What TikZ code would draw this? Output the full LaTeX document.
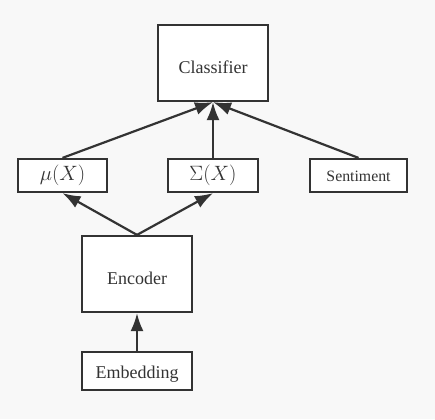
\documentclass[tikz,border=0pt]{standalone}
\usepackage{fontspec}
\usepackage{amsmath}
\setmainfont{Liberation Serif}
\usetikzlibrary{arrows.meta}
\definecolor{boxcol}{HTML}{333333}
\definecolor{bgcol}{HTML}{F8F8F8}
\newcommand{\boxtext}[2][4pt]{\raisebox{-#1}[\height][\depth]{#2}}
\tikzset{
  box/.style={draw=boxcol, line width=2.2pt, fill=white, inner sep=0pt, text=boxcol,
    font=\fontsize{18}{20}\selectfont},
  link/.style={draw=boxcol, line width=2.2pt, -{Latex[length=18pt,width=13pt]}}
}

\begin{document}
\begin{tikzpicture}[x=1pt,y=-1pt]
  %Hintergrund
  \fill[bgcol] (0,0) rectangle (435,419);
  \useasboundingbox (0,0) rectangle (435,419);
  %Knoten
  \node[box, minimum width=110pt, minimum height=76pt] (cls) at (213,63) {\boxtext{Classifier}};
  \node[box, minimum width=89pt, minimum height=33pt, font=\fontsize{21}{24}\selectfont] (mu) at (62.5,175.5) {$\mu(X)$};
  \node[box, minimum width=90pt, minimum height=33pt, font=\fontsize{21}{24}\selectfont] (sig) at (213,175.5) {$\Sigma(X)$};
  \node[box, minimum width=97pt, minimum height=33pt, font=\fontsize{15.8}{18}\selectfont] (sent) at (358.5,175.5) {\boxtext[1pt]{Sentiment}};
  \node[box, minimum width=110pt, minimum height=76pt] (enc) at (137,274) {\boxtext{Encoder}};
  \node[box, minimum width=110pt, minimum height=38pt] (emb) at (137,371) {\boxtext[3pt]{Embedding}};

  %Pfeile
  \draw[link] (mu.north) -- (cls.south);
  \draw[link] (sig.north) -- (cls.south);
  \draw[link] (sent.north) -- (cls.south);
  \draw[link] (enc.north) -- (mu.south);
  \draw[link] (enc.north) -- (sig.south);
  \draw[link] (emb.north) -- (enc.south);
\end{tikzpicture}
\end{document}
